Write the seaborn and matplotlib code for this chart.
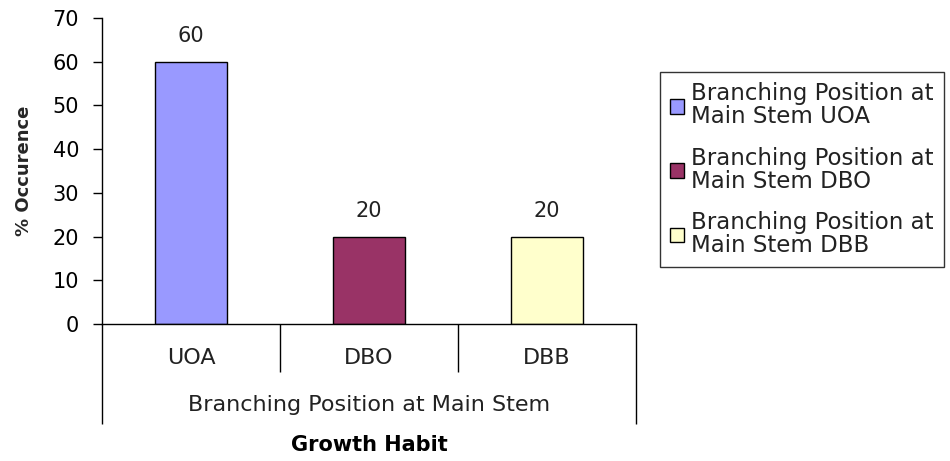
import numpy as np
import pandas as pd
import matplotlib
matplotlib.use("Agg")
import matplotlib.pyplot as plt
import seaborn as sns

categories = ["UOA", "DBO", "DBB"]
values = [60, 20, 20]
series_names = ["Branching Position at\nMain Stem UOA",
                "Branching Position at\nMain Stem DBO",
                "Branching Position at\nMain Stem DBB"]
colors = ["#9999FF", "#993366", "#FFFFCC"]
group_label = "Branching Position at Main Stem"
x_title = "Growth Habit"
y_title = "% Occurence"
yticks = [0, 10, 20, 30, 40, 50, 60, 70]

sns.set_theme(style="ticks")
plt.rcParams["font.family"] = ["DejaVu Sans"]
FS = 15
FS_CAT = 16

df = pd.DataFrame({"cat": categories, "val": values, "series": series_names})

fig = plt.figure(figsize=(9.5, 4.61), dpi=100)
L, R, B, T = 102/950, 636/950, 1-324/461, 1-18/461
ax = fig.add_axes([L, B, R-L, T-B])

sns.barplot(data=df, x="cat", y="val", hue="series", palette=colors,
            saturation=1, dodge=False, width=0.4, edgecolor="black",
            linewidth=1.0, legend=True, ax=ax)

handles, labels = ax.get_legend_handles_labels()
ax.get_legend().remove()

for c in ax.containers:
    ax.bar_label(c, fmt="%g", padding=11, fontsize=FS, color="#222222")

ax.set_xlim(-0.5, len(categories)-0.5)
ax.set_ylim(0, 70)
ax.set_yticks(yticks)
ax.tick_params(axis="y", length=6.5, width=1, pad=10, labelsize=FS,
               colors="black", direction="out")
ax.set_xticks([])
ax.set_xlabel("")
ax.set_ylabel(y_title, fontsize=13, fontweight="bold", labelpad=14)
for s in ["top", "right"]:
    ax.spines[s].set_visible(False)
for s in ["left", "bottom"]:
    ax.spines[s].set_color("black")
    ax.spines[s].set_linewidth(1.0)

# multi-level category axis
ax_h = 324 - 18
bounds = np.arange(len(categories)+1) - 0.5
inner = bounds[1:-1]
outer = bounds[[0, -1]]
xt = ax.get_xaxis_transform()
ax.vlines(inner, -48/ax_h, 0, transform=xt, colors="black", lw=1, clip_on=False)
ax.vlines(outer, -100/ax_h, 0, transform=xt, colors="black", lw=1, clip_on=False)
for i, c in enumerate(categories):
    ax.text(i, -34/ax_h, c, transform=xt, ha="center", va="center",
            fontsize=FS_CAT, color="#222222")
ax.text((len(categories)-1)/2, -81/ax_h, group_label, transform=xt,
        ha="center", va="center", fontsize=FS_CAT, color="#222222")
ax.text((len(categories)-1)/2, -121/ax_h, x_title, transform=xt,
        ha="center", va="center", fontsize=15, fontweight="bold", color="black")

leg = fig.legend(handles, series_names, loc="upper left",
                 bbox_to_anchor=(660/950, 1-72/461), fontsize=16.5,
                 frameon=True, fancybox=False, edgecolor="black",
                 borderpad=0.45, borderaxespad=0, handlelength=0.6,
                 handleheight=0.6, handletextpad=0.3, labelspacing=0.8)
leg.get_frame().set_linewidth(1.0)
for t in leg.get_texts():
    t.set_linespacing(1.0)
    t.set_color("#222222")

fig.savefig("out.png", dpi=100, facecolor="white")
